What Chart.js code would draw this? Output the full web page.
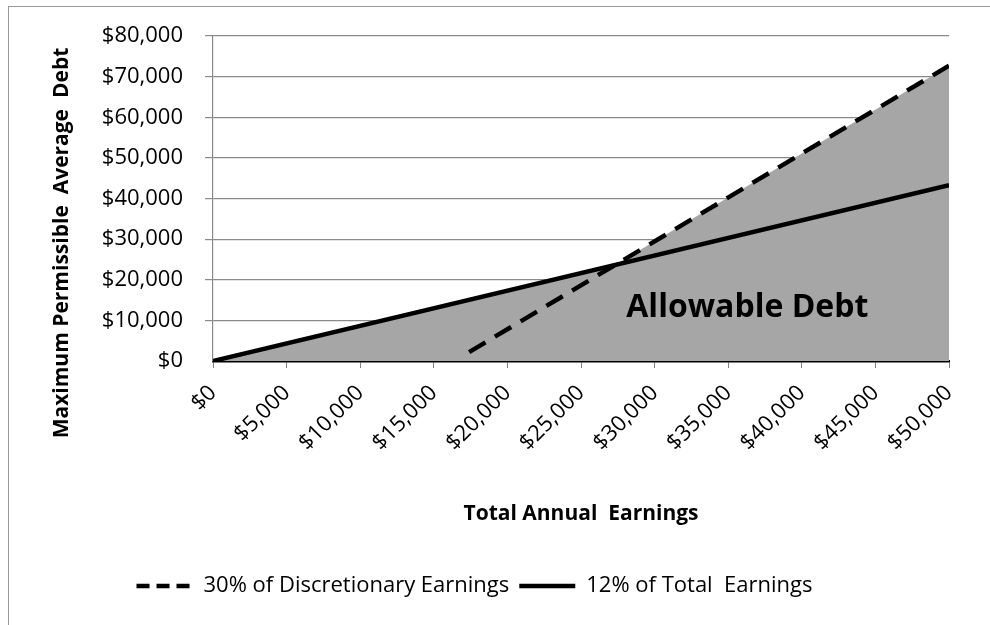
<!DOCTYPE html>
<html>
<head>
<meta charset="utf-8">
<script src="https://cdn.jsdelivr.net/npm/chart.js@4.4.1/dist/chart.umd.min.js"></script>
<style>
    body { margin: 0; background: #fff; }
    #wrap { position: relative; width: 990px; height: 625px; overflow: hidden; }
    #frame { position: absolute; left: 8px; top: 6px; width: 1000px; height: 700px; border: 1px solid #9a9a9a; pointer-events: none; }
</style>
</head>
<body>
<div id="wrap">
    <canvas id="debt" width="990" height="625"></canvas>
    <div id="frame"></div>
</div>
<script>
// earnings ($) vs. max permissible average debt ($)
const totalEarnX = [0, 50000];
const totalEarnY = [0, 43300];            // 12% of total earnings
const discEarnX = [17400, 50000];
const discEarnY = [2200, 72700];          // 30% of discretionary earnings
const allowX = [0, 27300, 50000];
const allowY = [0, 23650, 72700];         // upper edge of the shaded region

const xTicks = [0, 5000, 10000, 15000, 20000, 25000, 30000, 35000, 40000, 45000, 50000];
const yTicks = [0, 10000, 20000, 30000, 40000, 50000, 60000, 70000, 80000];

const FONT = "'Open Sans', 'Noto Sans', sans-serif";
const money = v => "$" + Number(v).toLocaleString("en-US");

function pts(xs, ys) {
    return xs.map((x, i) => ({ x: x, y: ys[i] }));
}

// y title + region label drawn on top of the plot
const extras = {
    id: "extras",
    afterDraw(chart) {
        const ctx = chart.ctx;
        const xs = chart.scales.x, ys = chart.scales.y;
        ctx.save();
        ctx.fillStyle = "#000";
        ctx.font = "bold 32px " + FONT;
        ctx.textAlign = "center";
        ctx.textBaseline = "middle";
        ctx.fillText("Allowable Debt", xs.getPixelForValue(36300), ys.getPixelForValue(13000));

        ctx.translate(62, 243);
        ctx.rotate(-Math.PI / 2);
        ctx.font = "bold 21px " + FONT;
        ctx.fillText("Maximum Permissible  Average  Debt", 0, 0);
        ctx.restore();
    }
};

const legendDefaults = Chart.defaults.plugins.legend.labels.generateLabels;

new Chart("debt", {
    type: "scatter",
    data: {
        datasets: [{
            label: "30% of Discretionary Earnings",
            data: pts(discEarnX, discEarnY),
            showLine: true,
            borderColor: "#000",
            backgroundColor: "#000",
            borderWidth: 4.5,
            borderDash: [19, 11],
            pointRadius: 0,
            order: 1
        }, {
            label: "12% of Total  Earnings",
            data: pts(totalEarnX, totalEarnY),
            showLine: true,
            borderColor: "#000",
            backgroundColor: "#000",
            borderWidth: 4.5,
            pointRadius: 0,
            order: 2
        }, {
            label: "allowable",
            data: pts(allowX, allowY),
            showLine: true,
            fill: "origin",
            borderWidth: 0,
            backgroundColor: "#a6a6a6",
            pointRadius: 0,
            order: 10
        }]
    },
    options: {
        responsive: false,
        animation: false,
        events: [],
        layout: { padding: { left: 0, top: 36, right: 41, bottom: 18 } },
        scales: {
            x: {
                type: "linear",
                min: 0,
                max: 50000,
                afterBuildTicks: s => { s.ticks = xTicks.map(v => ({ value: v })); },
                afterFit: s => { s.height = 204; },
                ticks: {
                    minRotation: 45,
                    maxRotation: 45,
                    padding: 12,
                    color: "#000",
                    font: { family: FONT, size: 22 },
                    callback: money
                },
                grid: { drawOnChartArea: false, drawTicks: true, tickLength: 7, color: "#7f7f7f" },
                border: { color: "#000", width: 2.5 },
                title: {
                    display: true,
                    text: "Total Annual  Earnings",
                    color: "#000",
                    font: { family: FONT, size: 21, weight: "bold" },
                    padding: { top: 0, bottom: 38 }
                }
            },
            y: {
                min: 0,
                max: 80000,
                afterBuildTicks: s => { s.ticks = yTicks.map(v => ({ value: v })); },
                afterFit: s => { s.width = 213; },
                ticks: {
                    padding: 22,
                    color: "#000",
                    font: { family: FONT, size: 22 },
                    callback: money
                },
                grid: {
                    tickLength: 8,
                    color: c => c.tick && c.tick.value === 0 ? "rgba(0,0,0,0)" : "#8a8a8a",
                    lineWidth: 1.2
                },
                border: { color: "#8a8a8a", width: 1.2 }
            }
        },
        plugins: {
            tooltip: { enabled: false },
            legend: {
                position: "bottom",
                labels: {
                    usePointStyle: true,
                    pointStyle: "line",
                    pointStyleWidth: 56,
                    boxHeight: 6,
                    padding: 10,
                    color: "#000",
                    font: { family: FONT, size: 22 },
                    filter: item => item.text !== "allowable",
                    generateLabels: chart => legendDefaults(chart).map(l => {
                        // dashed series gets a shorter dash so three fit in the key
                        l.lineDash = l.datasetIndex === 0 ? [13, 7] : [];
                        l.lineWidth = 4.5;
                        return l;
                    })
                }
            }
        }
    },
    plugins: [extras]
});
</script>
</body>
</html>
